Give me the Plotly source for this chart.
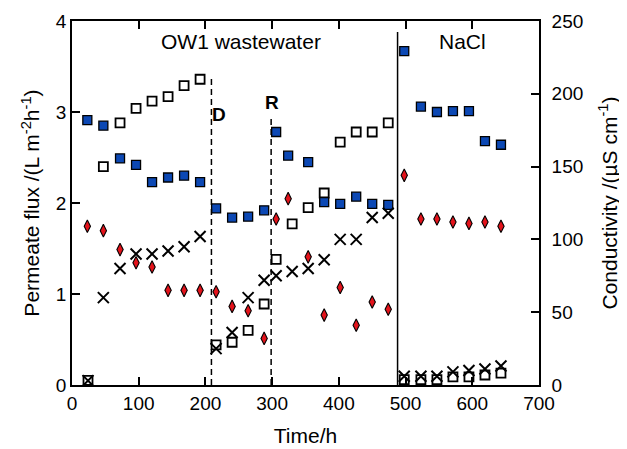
import plotly.graph_objects as go

# ---- data ----
t_blue = [23, 47, 72, 96, 120, 144, 168, 192, 216, 240, 264, 288, 306, 324, 354,
          378, 402, 426, 450, 474, 498, 523, 547, 571, 595, 619, 643]
flux_blue = [2.91, 2.85, 2.49, 2.42, 2.23, 2.28, 2.30, 2.23, 1.94, 1.84, 1.85, 1.92,
             2.78, 2.52, 2.45, 2.01, 1.99, 2.07, 1.99, 1.98, 3.67, 3.06, 3.00, 3.01,
             3.01, 2.68, 2.64]

t_open = [24, 47, 72, 96, 120, 144, 168, 192, 216, 240, 264, 288, 306, 330, 354,
          378, 402, 426, 450, 474, 498, 523, 547, 571, 595, 619, 643]
flux_open = [0.05, 2.40, 2.88, 3.04, 3.12, 3.17, 3.29, 3.36, 0.44, 0.47, 0.60, 0.89,
             1.38, 1.77, 1.95, 2.11, 2.67, 2.78, 2.78, 2.88, 0.06, 0.06, 0.06, 0.09,
             0.09, 0.11, 0.13]

t_dia = [23, 47, 72, 96, 120, 144, 168, 192, 216, 240, 264, 288, 306, 324, 354,
         378, 402, 426, 450, 474, 498, 523, 547, 571, 595, 619, 643]
cond_dia = [109, 106, 93, 84, 81, 65, 65, 65, 64, 54, 51, 32, 114, 128, 88, 48, 67,
            41, 57, 52, 144, 114, 114, 112, 111, 112, 109]

t_x = [24, 47, 72, 96, 120, 144, 168, 192, 216, 240, 264, 288, 306, 330, 354,
       378, 402, 426, 450, 474, 498, 523, 547, 571, 595, 619, 643]
cond_x = [3, 60, 80, 90, 90, 92, 95, 102, 25, 36, 60, 72, 75, 78, 80, 86, 100, 100,
          115, 118, 6, 6, 6, 9, 10, 11, 13]

# event markers: (time, top flux, style)
event_t = [209, 298.5, 488]
event_top = [3.38, 2.95, 3.88]
event_dash = ["6px,4px", "6px,4px", "solid"]

labels = ["OW1 wastewater", "NaCl", "D", "R"]
label_x = [254, 585, 220, 300.5]
label_y = [3.78, 3.78, 2.97, 3.10]

FONT = "Liberation Sans, Arial, sans-serif"

fig = go.Figure()

fig.add_trace(go.Scatter(x=t_x, y=cond_x, mode="markers", yaxis="y2",
                         marker=dict(symbol="x-thin", size=11, color="black",
                                     line=dict(width=2, color="black"))))
fig.add_trace(go.Scatter(x=t_dia, y=cond_dia, mode="markers", yaxis="y2",
                         marker=dict(symbol="diamond-tall", size=9, color="#e3131b",
                                     line=dict(width=1.1, color="black"))))
fig.add_trace(go.Scatter(x=t_open, y=flux_open, mode="markers",
                         marker=dict(symbol="square", size=9, color="white",
                                     line=dict(width=1.8, color="black"))))
fig.add_trace(go.Scatter(x=t_blue, y=flux_blue, mode="markers",
                         marker=dict(symbol="square", size=9, color="#0c48b4",
                                     line=dict(width=1.3, color="black"))))

shapes = []
for t, top, d in zip(event_t, event_top, event_dash):
    shapes.append(dict(type="line", xref="x", yref="y", x0=t, x1=t, y0=0, y1=top,
                       line=dict(color="black", width=1.5, dash=d)))

annots = []
for i, (txt, ax, ay) in enumerate(zip(labels, label_x, label_y)):
    bold = txt in ("D", "R")
    annots.append(dict(x=ax, y=ay, xref="x", yref="y", showarrow=False,
                       text=f"<b>{txt}</b>" if bold else txt,
                       font=dict(family=FONT, size=19 if bold else 21, color="black")))

axis_common = dict(showgrid=False, zeroline=False, showline=True, linecolor="black",
                   linewidth=1.6, ticks="inside", ticklen=8, tickwidth=1.5,
                   tickcolor="black", automargin=False,
                   tickfont=dict(family=FONT, size=19, color="black"))

fig.update_layout(
    width=627, height=449,
    margin=dict(l=64, r=96, t=13, b=72, autoexpand=False),
    paper_bgcolor="white", plot_bgcolor="white",
    showlegend=False,
    shapes=shapes, annotations=annots,
    xaxis=dict(range=[0, 700], dtick=100, mirror="ticks",
               title=dict(text="Time/h", font=dict(family=FONT, size=21, color="black"),
                          standoff=16),
               **axis_common),
    yaxis=dict(range=[0, 4], dtick=1,
               title=dict(text="Permeate flux /(L m<sup>-2</sup>h<sup>-1</sup>)",
                          font=dict(family=FONT, size=21, color="black"), standoff=10),
               **axis_common),
    yaxis2=dict(range=[0, 250], dtick=50, overlaying="y", side="right",
                ticklabelstandoff=7,
                title=dict(text="Conductivity /(µS cm<sup>-1</sup>)",
                           font=dict(family=FONT, size=21, color="black"), standoff=20),
                **axis_common),
)

fig.write_html("out.html")
